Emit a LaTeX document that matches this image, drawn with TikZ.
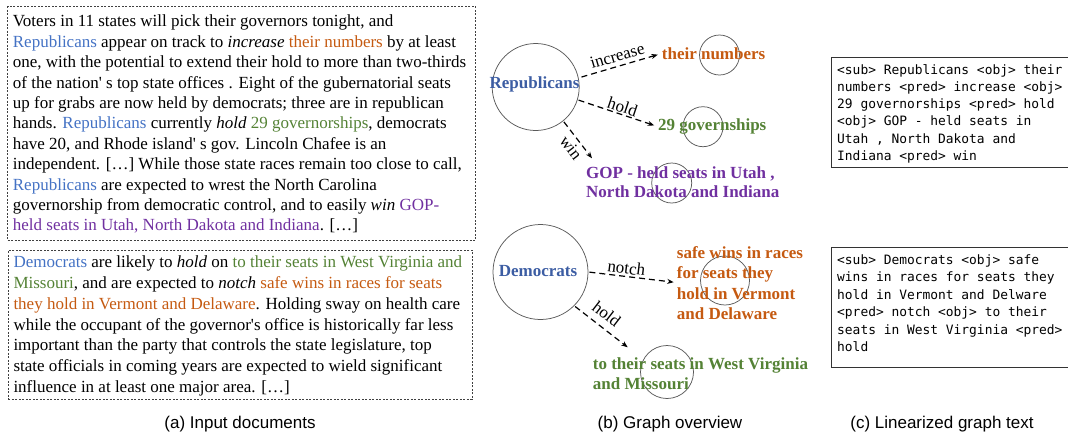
\documentclass[tikz,border=0pt]{standalone}
\usepackage{fontspec}
\setmainfont{Liberation Serif}
\setsansfont{Liberation Sans}
\setmonofont{DejaVu Sans Mono}
\usetikzlibrary{arrows.meta,calc}
\definecolor{tblue}{HTML}{4472C4}
\definecolor{gblue}{HTML}{3C5DA3}
\definecolor{torange}{HTML}{C55A11}
\definecolor{tgreen}{HTML}{548235}
\definecolor{tpurple}{HTML}{7030A0}
\definecolor{circgray}{HTML}{5A5A5A}
\begin{document}
\begin{tikzpicture}[x=1pt,y=-1pt,
  doctext/.style={font=\fontsize{17}{20.4}\selectfont, align=left, inner sep=0pt, anchor=north west},
  docbox/.style={draw=black!75, dash pattern=on 2pt off 1.5pt, line width=0.8pt, inner sep=0pt, anchor=north west},
  glab/.style={font=\bfseries\fontsize{17}{20.3}\selectfont, inner sep=0pt},
  gblock/.style={glab, align=left, anchor=north west},
  circ/.style={circle, draw=circgray, line width=0.75pt, inner sep=0pt},
  rel/.style={dash pattern=on 6pt off 4pt, line width=1.2pt, -{Stealth[length=6.5pt,width=5pt]}},
  elab/.style={font=\fontsize{17}{20}\selectfont, sloped, inner sep=1pt},
  monotext/.style={font=\ttfamily\fontsize{12.9}{17.2}\selectfont, align=left, inner sep=0pt, anchor=north west},
  monobox/.style={draw=black!80, line width=0.9pt, inner sep=0pt, anchor=north west},
  captxt/.style={font=\sffamily\fontsize{17}{20}\selectfont, anchor=base}]
\useasboundingbox (0,0) rectangle (1068,432);

% ---------- (a) input documents ----------
\node[docbox, minimum width=467.7pt, minimum height=234pt] (boxA) at (7.3,6) {};
\node[doctext] (docA) at (12.7,12.7) {\rule{0pt}{14pt}Voters in 11 states will pick their governors tonight, and\\
\textcolor{tblue}{Republicans} appear on track to \textit{increase} \textcolor{torange}{their numbers} by at least\\
one, with the potential to extend their hold to more than two-thirds\\
of the nation\textquotesingle{} s top state offices . Eight of the gubernatorial seats\\
up for grabs are now held by democrats; three are in republican\\
hands. \textcolor{tblue}{Republicans} currently \textit{hold} \textcolor{tgreen}{29 governorships}, democrats\\
have 20, and Rhode island\textquotesingle{} s gov. Lincoln Chafee is an\\
independent. […] While those state races remain too close to call,\\
\textcolor{tblue}{Republicans} are expected to wrest the North Carolina\\
governorship from democratic control, and to easily \textit{win} \textcolor{tpurple}{GOP-}\\
\textcolor{tpurple}{held seats in Utah, North Dakota and Indiana}. […]};

\node[docbox, minimum width=464pt, minimum height=149pt] (boxB) at (8,250) {};
\node[doctext, font=\fontsize{17}{20.77}\selectfont] (docB) at (13.3,253.7) {\rule{0pt}{14pt}\textcolor{tblue}{Democrats} are likely to \textit{hold} on \textcolor{tgreen}{to their seats in West Virginia and}\\
\textcolor{tgreen}{Missouri}, and are expected to \textit{notch} \textcolor{torange}{safe wins in races for seats}\\
\textcolor{torange}{they hold in Vermont and Delaware}. Holding sway on health care\\
while the occupant of the governor\textquotesingle s office is historically far less\\
important than the party that controls the state legislature, top\\
state officials in coming years are expected to wield significant\\
influence in at least one major area. […]};

\node[captxt] (capA) at (240,428) {(a) Input documents};

% ---------- (b) graph overview ----------
\node[circ, minimum size=87pt] (R) at (535.7,87) {};
\node[glab, text=gblue, anchor=base] (Rt) at (534.5,88.3) {Republicans};

\node[circ, minimum size=40pt] (c1) at (719.5,55) {};
\node[glab, text=torange, anchor=base west] (tn) at (661.7,59.3) {their numbers};

\node[circ, minimum size=40pt] (c2) at (703,126.7) {};
\node[glab, text=tgreen, anchor=base west] (g29) at (658,130.7) {29 governships};

\node[circ, minimum size=40pt] (c3) at (671.7,183) {};
\node[gblock, text=tpurple, font=\bfseries\fontsize{17}{19}\selectfont] (gop) at (586,165.3) {\rule{0pt}{13pt}GOP - held seats in Utah ,\\North Dakota and Indiana};

\draw[rel, shorten <=3pt, shorten >=4pt] (R.12) -- (tn.west)
  node[elab, pos=0.5, above=3pt] {increase};
\draw[rel, shorten <=1pt, shorten >=4pt] (R.-17) -- (g29.west)
  node[elab, pos=0.53, above=0pt] {hold};
\draw[rel, shorten <=1pt] (R.-51) -- ($(gop.north west)+(6,-7)$)
  node[elab, pos=0.55, below=3pt] {win};

\node[circ, minimum size=95pt] (D) at (540.5,272) {};
\node[glab, text=gblue, anchor=base] (Dt) at (538,276) {Democrats};

\node[circ, minimum size=49pt] (c4) at (725,280.5) {};
\node[gblock, text=torange] (sw) at (676.7,245.3) {\rule{0pt}{13pt}safe wins in races\\for seats they\\hold in Vermont\\and Delaware};

\node[circ, minimum size=53pt] (c5) at (667,372) {};
\node[gblock, text=tgreen] (ts) at (592.7,356.3) {\rule{0pt}{13pt}to their seats in West Virginia\\and Missouri};

\draw[rel, shorten <=1pt, shorten >=3pt] (D.east) -- (sw.west)
  node[elab, pos=0.42, above=1pt] {notch};
\draw[rel, shorten <=1pt] (D.-45) -- ($(ts.north west)+(35,-9)$)
  node[elab, pos=0.45, above=6pt] {hold};

\node[captxt] (capB) at (670,428) {(b) Graph overview};

% ---------- (c) linearized graph text ----------
\node[monobox, minimum width=250pt, minimum height=110pt] (boxC) at (830.7,57.3) {};
\node[monotext] (linC) at (837,63) {\rule{0pt}{11pt}<sub> Republicans <obj> their\\
numbers <pred> increase <obj>\\
29 governorships <pred> hold\\
<obj> GOP - held seats in\\
Utah , North Dakota and\\
Indiana <pred> win};

\node[monobox, minimum width=250pt, minimum height=120pt] (boxD) at (830.7,247.3) {};
\node[monotext, font=\ttfamily\fontsize{12.9}{17.5}\selectfont] (linD) at (837,253) {\rule{0pt}{11pt}<sub> Democrats <obj> safe\\
wins in races for seats they\\
hold in Vermont and Delware\\
<pred> notch <obj> to their\\
seats in West Virginia <pred>\\
hold};

\node[captxt] (capC) at (942,428) {(c) Linearized graph text};
\end{tikzpicture}
\end{document}
